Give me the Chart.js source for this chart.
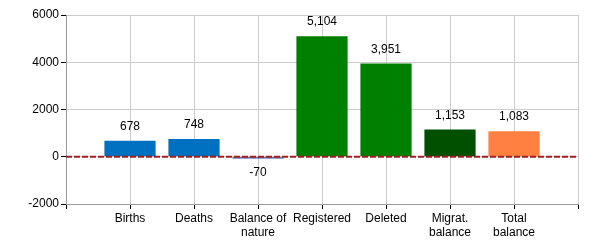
<!DOCTYPE html>
<html>
<head>
<meta charset="utf-8">
<script src="https://cdn.jsdelivr.net/npm/chart.js@4/dist/chart.umd.min.js"></script>
<style>
  html, body { margin: 0; padding: 0; background: #fff; }
  #wrap { width: 600px; height: 250px; }
</style>
</head>
<body>
<div id="wrap"><canvas id="balanceChart" width="600" height="250"></canvas></div>
<script>
// empty slots at both ends keep the bars away from the plot edges
var categories = ['', 'Births', 'Deaths', ['Balance of', 'nature'], 'Registered', 'Deleted', ['Migrat.', 'balance'], ['Total', 'balance'], ''];
var values = [null, 678, 748, -70, 5104, 3951, 1153, 1083, null];
var barColors = ['#0070c0', '#0070c0', '#0070c0', '#2f4f9f', '#008000', '#008000', '#005000', '#ff8040', '#0070c0'];
var zeroLine = [0, 0, 0, 0, 0, 0, 0, 0, 0];
var yTicks = [-2000, 0, 2000, 4000, 6000];

var valueLabels = {
    id: 'valueLabels',
    afterDatasetsDraw: function(chart) {
        var ctx = chart.ctx;
        var meta = chart.getDatasetMeta(0);
        ctx.save();
        ctx.font = '12px Arial, "Liberation Sans", sans-serif';
        ctx.fillStyle = '#000';
        ctx.textAlign = 'center';
        ctx.textBaseline = 'middle';
        meta.data.forEach(function(bar, i) {
            var v = values[i];
            if (v === null) return;
            var y = v >= 0 ? bar.y - 14 : bar.y + 14;
            ctx.fillText(v.toLocaleString('en-US'), bar.x, y);
        });
        ctx.restore();
    }
};

new Chart(document.getElementById('balanceChart'), {
    type: 'bar',
    data: {
        labels: categories,
        datasets: [{
            data: values,
            backgroundColor: barColors,
            barPercentage: 1,
            categoryPercentage: 0.8,
            order: 2
        }, {
            type: 'line',
            data: zeroLine,
            borderColor: '#a02020',
            borderWidth: 2,
            borderDash: [6, 2],
            pointRadius: 0,
            order: 1
        }]
    },
    options: {
        responsive: false,
        animation: false,
        layout: { padding: { top: 15, right: 22, left: 0, bottom: 0 } },
        plugins: {
            legend: { display: false },
            tooltip: { enabled: false }
        },
        scales: {
            x: {
                offset: false,
                grid: { offset: false, color: '#cccccc', tickColor: '#000', tickLength: 5 },
                border: { color: '#999999' },
                ticks: {
                    color: '#000',
                    font: { family: 'Arial, "Liberation Sans", sans-serif', size: 12 },
                    maxRotation: 0,
                    autoSkip: false,
                    padding: 2
                },
                afterFit: function(s) { s.height = 46; }
            },
            y: {
                min: -2000,
                max: 6000,
                afterBuildTicks: function(s) {
                    s.ticks = yTicks.map(function(v) { return { value: v }; });
                },
                grid: { color: '#cccccc', tickColor: '#000', tickLength: 5 },
                border: { color: '#999999' },
                ticks: {
                    color: '#000',
                    font: { family: 'Arial, "Liberation Sans", sans-serif', size: 12 },
                    padding: 2,
                    callback: function(v) { return String(v); }
                },
                afterFit: function(s) { s.width = 66; }
            }
        }
    },
    plugins: [valueLabels]
});
</script>
</body>
</html>
